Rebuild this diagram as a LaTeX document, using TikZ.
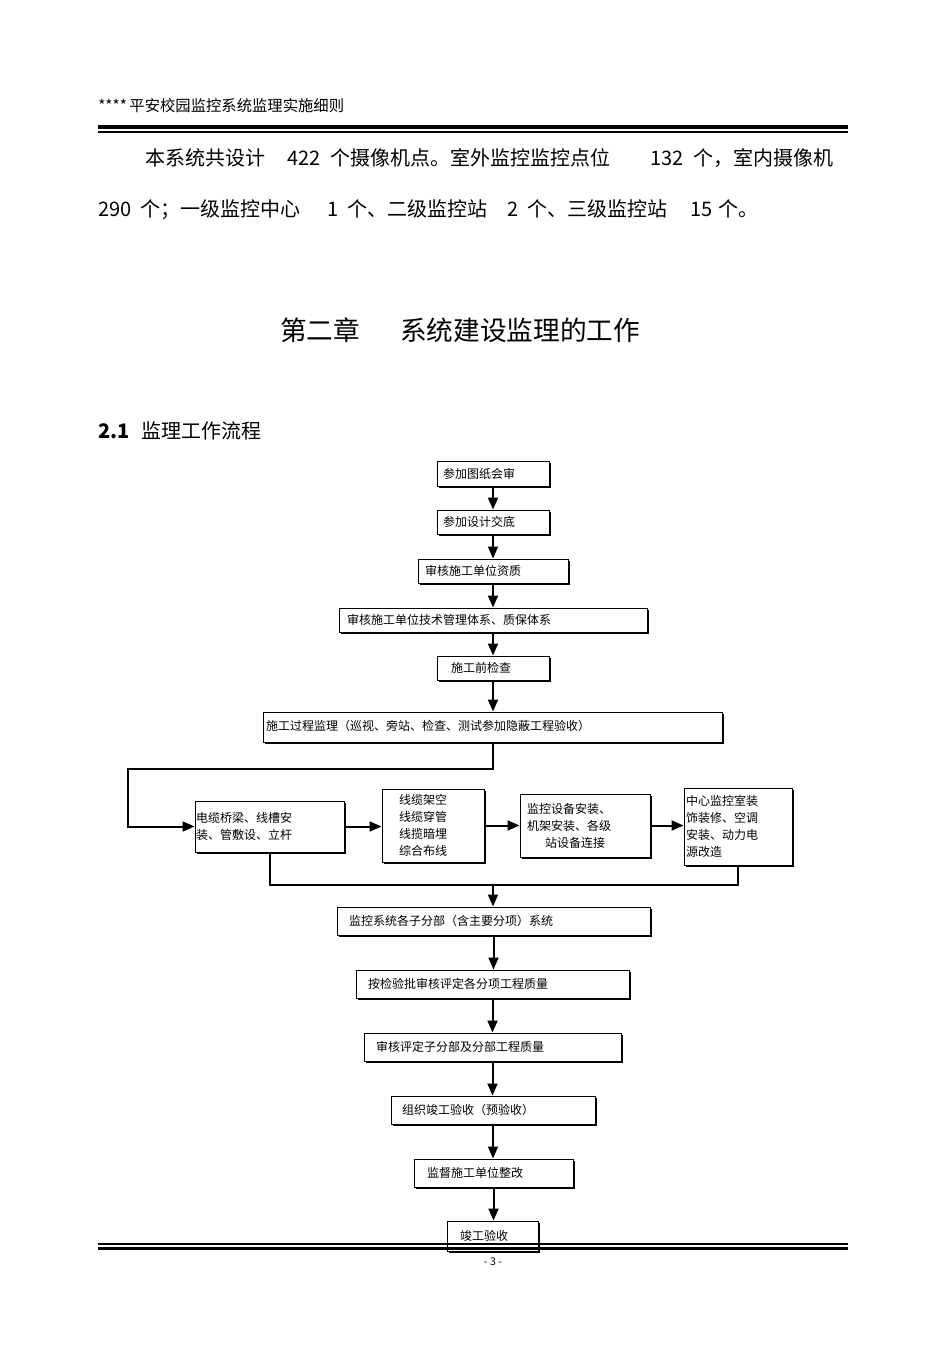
\documentclass[tikz,border=0pt]{standalone}
\usepackage{fontspec}
\setmainfont{Noto Sans CJK SC}
\usetikzlibrary{arrows.meta,shadows}
\begin{document}
\begin{tikzpicture}[x=0.75pt,y=-0.75pt,
  box/.style={draw=black, line width=0.75pt, fill=white, align=left,
    font=\fontsize{9}{12.75}\selectfont, inner ysep=0pt,
    drop shadow={shadow xshift=1.5pt, shadow yshift=-1.5pt, fill=black, opacity=1}},
  arr/.style={line width=1.5pt, -{Triangle[length=9pt,width=7.5pt]}},
  ln/.style={line width=1.5pt},
  txt/.style={anchor=base west, inner sep=0pt},
  para/.style={txt, font=\fontsize{15}{18}\selectfont}]
\fill[white] (0,0) rectangle (950,1345);
\useasboundingbox (0,0) rectangle (950,1345);

% header
\node[txt, font=\fontsize{11.5}{13}\selectfont] (hd) at (98,112) {****\,平安校园监控系统监理实施细则};
\draw[line width=2.6pt] (98,127) -- (848,127);
\draw[line width=0.8pt] (98,132) -- (848,132);

% paragraph
\node[para] (p1a) at (145,165) {本系统共设计};
\node[para] (p1b) at (287,165) {422};
\node[para] (p1c) at (330,165) {个摄像机点。室外监控监控点位};
\node[para] (p1d) at (650,165) {132};
\node[para] (p1e) at (693,165) {个，室内摄像机};
\node[para] (p2a) at (98,216) {290};
\node[para] (p2b) at (140,216) {个；一级监控中心};
\node[para] (p2c) at (327,216) {1};
\node[para] (p2d) at (347,216) {个、二级监控站};
\node[para] (p2e) at (507,216) {2};
\node[para] (p2f) at (527,216) {个、三级监控站};
\node[para] (p2g) at (690,216) {15};
\node[para] (p2h) at (718,216) {个。};

% chapter title
\node[txt, font=\fontsize{20}{24}\selectfont] (ch1) at (280,340) {第二章};
\node[txt, font=\fontsize{20}{24}\selectfont] (ch2) at (400,340) {系统建设监理的工作};

% section
\node[para, font=\fontsize{15}{18}\selectfont\bfseries] (s1) at (98,438) {2.1};
\node[para] (s2) at (141,438) {监理工作流程};

% flow boxes
\node[box, minimum width=84pt, minimum height=18.75pt, inner xsep=4.5pt, text width=75pt] (b1) at (493,473.5) {参加图纸会审};
\node[box, minimum width=84pt, minimum height=18pt, inner xsep=4.5pt, text width=75pt] (b2) at (493,522) {参加设计交底};
\node[box, minimum width=112.5pt, minimum height=18pt, inner xsep=5.25pt, text width=102pt] (b3) at (493,571) {审核施工单位资质};
\node[box, minimum width=231pt, minimum height=18pt, inner xsep=6pt, text width=219pt] (b4) at (493,620) {审核施工单位技术管理体系、质保体系};
\node[box, minimum width=84pt, minimum height=18pt, inner xsep=10.5pt, text width=63pt] (b5) at (493,668) {施工前检查};
\node[box, minimum width=344.25pt, minimum height=22.5pt, inner xsep=2.25pt, text width=339.75pt] (b6) at (492.5,727) {\raisebox{2pt}{施工过程监理（巡视、旁站、检查、测试参加隐蔽工程验收）}};

\node[box, minimum width=111.75pt, minimum height=38.25pt, inner xsep=0.75pt, text width=110.25pt] (b7) at (269.5,826.5) {电缆桥梁、线槽安\\装、管敷设、立杆};
\node[box, minimum width=76.5pt, minimum height=54.75pt, inner xsep=12.75pt, text width=51pt] (b8) at (433,825.5) {线缆架空\\线缆穿管\\线揽暗埋\\综合布线};
\node[box, minimum width=97.5pt, minimum height=47.25pt, inner xsep=5.25pt, text width=87pt] (b9) at (585,825.5) {监控设备安装、\\机架安装、各级\\\hspace*{13.5pt}站设备连接};
\node[box, minimum width=81pt, minimum height=57.75pt, inner xsep=1.5pt, text width=78pt] (b10) at (738,826.5) {中心监控室装\\饰装修、空调\\安装、动力电\\源改造};

\node[box, minimum width=234.75pt, minimum height=21pt, inner xsep=9pt, text width=216.75pt] (b11) at (493.5,921) {监控系统各子分部（含主要分项）系统};
\node[box, minimum width=204.75pt, minimum height=21pt, inner xsep=9pt, text width=186.75pt] (b12) at (492.5,984) {按检验批审核评定各分项工程质量};
\node[box, minimum width=192.75pt, minimum height=21pt, inner xsep=9pt, text width=174.75pt] (b13) at (492.5,1047) {审核评定子分部及分部工程质量};
\node[box, minimum width=153pt, minimum height=21pt, inner xsep=8.25pt, text width=136.5pt] (b14) at (493,1110) {组织竣工验收（预验收）};
\node[box, minimum width=119.25pt, minimum height=21pt, inner xsep=9.75pt, text width=99.75pt] (b15) at (493.5,1173) {监督施工单位整改};
\node[box, minimum width=68.25pt, minimum height=22.5pt, inner xsep=9.75pt, text width=48.75pt] (b16) at (492.5,1236) {竣工验收};

% connectors
\draw[arr] (b1.south) -- (b1.south |- b2.north);
\draw[arr] (b2.south) -- (b2.south |- b3.north);
\draw[arr] (b3.south) -- (b3.south |- b4.north);
\draw[arr] (b4.south) -- (b4.south |- b5.north);
\draw[arr] (b5.south) -- (b5.south |- b6.north);

\coordinate (t1) at (128,769);
\draw[arr] (b6.south) |- (t1) |- (b7.west);
\draw[arr] (b7.east) -- (b8.west |- b7.east);
\draw[arr] (b8.east) -- (b9.west |- b8.east);
\draw[arr] (b9.east) -- (b10.west |- b9.east);

\coordinate (m) at (493,885);
\draw[ln] (b7.south) |- (m) -| (b10.south);
\draw[arr] (m) -- (m |- b11.north);

\draw[arr] (b11.south) -- (b11.south |- b12.north);
\draw[arr] (b12.south) -- (b12.south |- b13.north);
\draw[arr] (b13.south) -- (b13.south |- b14.north);
\draw[arr] (b14.south) -- (b14.south |- b15.north);
\draw[arr] (b15.south) -- (b15.south |- b16.north);

% footer
\draw[line width=1.2pt] (98,1244) -- (848,1244);
\draw[line width=2.4pt] (98,1248.5) -- (848,1248.5);
\node[inner sep=0pt, font=\fontsize{8}{10}\selectfont] (pg) at (493,1262) {- 3 -};
\end{tikzpicture}
\end{document}
